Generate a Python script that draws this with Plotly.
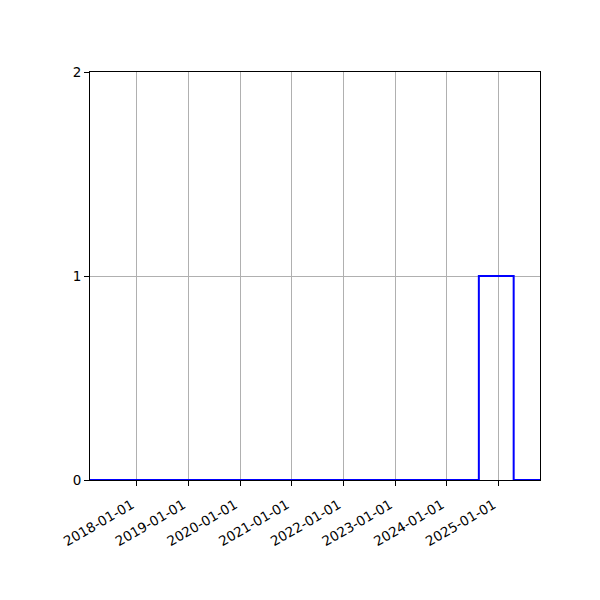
import plotly.graph_objects as go

# step series (value holds until next date)
dates = ["2017-02-05", "2024-08-14", "2025-04-17", "2025-10-20"]
values = [0, 1, 0, 0]

tick_dates = ["2018-01-01", "2019-01-01", "2020-01-01", "2021-01-01",
              "2022-01-01", "2023-01-01", "2024-01-01", "2025-01-01"]
y_ticks = [0, 1, 2]

fig = go.Figure()
fig.add_trace(go.Scatter(x=dates, y=values, mode="lines", line_shape="hv",
                         line=dict(color="blue", width=2)))

# page has an 8px body offset, so margins are shifted to compensate
fig.update_layout(
    width=600, height=600,
    margin=dict(l=82, r=68, t=64, b=128),
    paper_bgcolor="white", plot_bgcolor="white",
    showlegend=False,
    font=dict(family="DejaVu Sans", size=13, color="black"),
)
fig.update_xaxes(
    type="date", range=[dates[0], dates[-1]],
    tickvals=tick_dates, ticktext=tick_dates, tickangle=-30,
    tickfont=dict(size=13.5), ticklabelshift=-5, ticklabelstandoff=6,
    showgrid=True, gridcolor="#b0b0b0", gridwidth=1,
    showline=True, linecolor="black", linewidth=1, mirror=True,
    ticks="outside", ticklen=5, tickcolor="black",
    zeroline=False, layer="below traces",
)
fig.update_yaxes(
    range=[0, 2], tickvals=y_ticks, tickfont=dict(size=13.5),
    showgrid=True, gridcolor="#b0b0b0", gridwidth=1,
    showline=True, linecolor="black", linewidth=1, mirror=True,
    ticks="outside", ticklen=5, tickcolor="black",
    zeroline=False, layer="below traces",
)

fig.write_html("out.html")
